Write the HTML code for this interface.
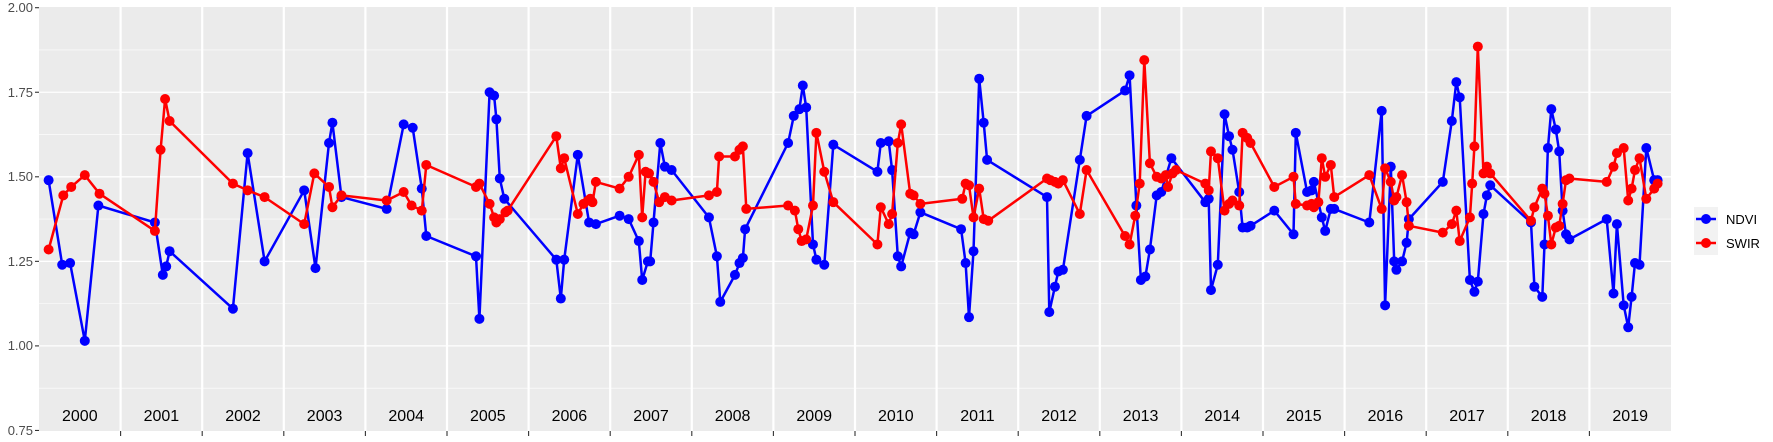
<!DOCTYPE html>
<html><head><meta charset="utf-8"><style>
html,body{margin:0;padding:0;background:#fff;width:1773px;height:442px;overflow:hidden}
svg{display:block;font-family:"Liberation Sans",sans-serif}
</style></head><body>
<svg id="s" width="1773" height="442" xmlns="http://www.w3.org/2000/svg">
<rect x="39" y="7" width="1632" height="424" fill="#ebebeb"/>
<g id="grid"></g>
<g id="lines"></g>
<g font-size="13" fill="#4d4d4d" text-anchor="end">
<text x="33" y="12">2.00</text><text x="33" y="97">1.75</text><text x="33" y="181">1.50</text>
<text x="33" y="266">1.25</text><text x="33" y="350">1.00</text><text x="33" y="435">0.75</text>
</g>
<g id="ticks" stroke="#333" stroke-width="1.1"></g>
<g id="years" font-size="16" fill="#000" text-anchor="middle"></g>
<rect x="1694" y="207" width="24" height="48" fill="#f2f2f2"/>
<line x1="1696" y1="219" x2="1716" y2="219" stroke="#0000ff" stroke-width="2.5"/><circle cx="1706" cy="219" r="5" fill="#0000ff"/>
<line x1="1696" y1="243" x2="1716" y2="243" stroke="#ff0000" stroke-width="2.5"/><circle cx="1706" cy="243" r="5" fill="#ff0000"/>
<text x="1726" y="224" font-size="13">NDVI</text>
<text x="1726" y="248" font-size="13">SWIR</text>
</svg>
<script>
const NS="http://www.w3.org/2000/svg";
function el(p,t,a){const e=document.createElementNS(NS,t);for(const k in a)e.setAttribute(k,a[k]);p.appendChild(e);return e;}
const Y=v=>7.7+(2-v)*338.2, X=x=>x*1.1307;
const g=document.getElementById('grid'),tk=document.getElementById('ticks'),yr=document.getElementById('years');
[0.875,1.125,1.375,1.625,1.875].forEach(v=>el(g,'line',{x1:39,x2:1671,y1:Y(v),y2:Y(v),stroke:'#fff','stroke-width':0.6}));
[1,1.25,1.5,1.75].forEach(v=>el(g,'line',{x1:39,x2:1671,y1:Y(v),y2:Y(v),stroke:'#fff','stroke-width':1.3}));
[0.75,1,1.25,1.5,1.75,2].forEach(v=>el(tk,'line',{x1:35,x2:39,y1:Y(v),y2:Y(v)}));
for(let i=0;i<20;i++){const x=39+i*81.6;
 if(i>0){el(g,'line',{x1:x,x2:x,y1:7,y2:431,stroke:'#fff','stroke-width':2.2});el(tk,'line',{x1:x,x2:x,y1:431,y2:436});}
 const t=el(yr,'text',{x:x+40.8,y:421});t.textContent=2000+i;}
const N=[[43,1.49],[55,1.24],[62,1.245],[75,1.015],[87,1.415],[137,1.365],[144,1.21],[147,1.235],[150,1.28],[206,1.11],[219,1.57],[234,1.25],[269,1.46],[279,1.23],[291,1.6],[294,1.66],[302,1.44],[342,1.405],[357,1.655],[365,1.645],[373,1.465],[377,1.325],[421,1.265],[424,1.08],[433,1.75],[437,1.74],[439,1.67],[442,1.495],[446,1.435],[492,1.255],[496,1.14],[499,1.255],[511,1.565],[521,1.365],[527,1.36],[548,1.385],[556,1.375],[565,1.31],[568,1.195],[573,1.25],[575,1.25],[578,1.365],[584,1.6],[588,1.53],[594,1.52],[627,1.38],[634,1.265],[637,1.13],[650,1.21],[654,1.245],[657,1.26],[659,1.345],[697,1.6],[702,1.68],[707,1.7],[710,1.77],[713,1.705],[719,1.3],[722,1.255],[729,1.24],[737,1.595],[776,1.515],[779,1.6],[786,1.605],[789,1.52],[794,1.265],[797,1.235],[805,1.335],[808,1.33],[814,1.395],[850,1.345],[854,1.245],[857,1.085],[861,1.28],[866,1.79],[870,1.66],[873,1.55],[926,1.44],[928,1.1],[933,1.175],[936,1.22],[940,1.225],[955,1.55],[961,1.68],[995,1.755],[999,1.8],[1005,1.415],[1009,1.195],[1013,1.205],[1017,1.285],[1023,1.445],[1027,1.455],[1036,1.555],[1066,1.425],[1069,1.435],[1071,1.165],[1077,1.24],[1083,1.685],[1087,1.62],[1090,1.58],[1096,1.455],[1099,1.35],[1103,1.35],[1106,1.355],[1127,1.4],[1144,1.33],[1146,1.63],[1156,1.455],[1160,1.46],[1162,1.485],[1169,1.38],[1172,1.34],[1177,1.405],[1180,1.405],[1211,1.365],[1222,1.695],[1225,1.12],[1230,1.53],[1233,1.25],[1235,1.225],[1240,1.25],[1244,1.305],[1246,1.375],[1276,1.485],[1284,1.665],[1288,1.78],[1291,1.735],[1300,1.195],[1304,1.16],[1307,1.19],[1312,1.39],[1315,1.445],[1318,1.475],[1354,1.365],[1357,1.175],[1364,1.145],[1366,1.3],[1369,1.585],[1372,1.7],[1376,1.64],[1379,1.575],[1382,1.4],[1385,1.33],[1388,1.315],[1421,1.375],[1427,1.155],[1430,1.36],[1436,1.12],[1440,1.055],[1443,1.145],[1446,1.245],[1450,1.24],[1456,1.585],[1463,1.49],[1466,1.49]];
const S=[[43,1.285],[56,1.445],[63,1.47],[75,1.505],[88,1.45],[137,1.34],[142,1.58],[146,1.73],[150,1.665],[206,1.48],[219,1.46],[234,1.44],[269,1.36],[278,1.51],[291,1.47],[294,1.41],[302,1.445],[342,1.43],[357,1.455],[364,1.415],[373,1.4],[377,1.535],[421,1.47],[424,1.48],[433,1.42],[437,1.38],[439,1.365],[442,1.375],[447,1.395],[449,1.4],[492,1.62],[496,1.525],[499,1.555],[511,1.39],[516,1.42],[520,1.43],[522,1.435],[524,1.425],[527,1.485],[548,1.465],[556,1.5],[565,1.565],[568,1.38],[571,1.515],[574,1.51],[578,1.485],[583,1.425],[588,1.44],[594,1.43],[627,1.445],[634,1.455],[636,1.56],[650,1.56],[654,1.58],[657,1.59],[660,1.405],[697,1.415],[703,1.4],[706,1.345],[709,1.31],[713,1.315],[719,1.415],[722,1.63],[729,1.515],[737,1.425],[776,1.3],[779,1.41],[786,1.36],[789,1.39],[794,1.6],[797,1.655],[805,1.45],[808,1.445],[814,1.42],[851,1.435],[854,1.48],[857,1.475],[861,1.38],[866,1.465],[870,1.375],[874,1.37],[926,1.495],[929,1.49],[933,1.485],[936,1.48],[940,1.49],[955,1.39],[961,1.52],[995,1.325],[999,1.3],[1004,1.385],[1008,1.48],[1012,1.845],[1017,1.54],[1023,1.5],[1027,1.495],[1031,1.505],[1033,1.47],[1037,1.51],[1040,1.52],[1066,1.48],[1069,1.46],[1071,1.575],[1077,1.555],[1083,1.4],[1087,1.42],[1090,1.43],[1096,1.415],[1099,1.63],[1103,1.615],[1106,1.6],[1127,1.47],[1144,1.5],[1146,1.42],[1156,1.415],[1160,1.42],[1162,1.41],[1166,1.425],[1169,1.555],[1172,1.5],[1177,1.535],[1180,1.44],[1211,1.505],[1222,1.405],[1225,1.525],[1230,1.485],[1233,1.43],[1235,1.44],[1240,1.505],[1244,1.425],[1246,1.355],[1276,1.335],[1284,1.36],[1288,1.4],[1291,1.31],[1300,1.38],[1302,1.48],[1304,1.59],[1307,1.885],[1312,1.51],[1315,1.53],[1318,1.51],[1354,1.37],[1357,1.41],[1364,1.465],[1366,1.45],[1369,1.385],[1372,1.3],[1376,1.35],[1379,1.355],[1382,1.42],[1385,1.49],[1388,1.495],[1421,1.485],[1427,1.53],[1430,1.57],[1436,1.585],[1440,1.43],[1443,1.465],[1446,1.52],[1450,1.555],[1456,1.435],[1463,1.465],[1466,1.48]];
const L=document.getElementById('lines');
function series(d,c){el(L,'polyline',{points:d.map(p=>X(p[0]).toFixed(1)+','+Y(p[1]).toFixed(1)).join(' '),fill:'none',stroke:c,'stroke-width':2.5,'stroke-linejoin':'round'});
 d.forEach(p=>el(L,'circle',{cx:X(p[0]),cy:Y(p[1]),r:5,fill:c}));}
series(N,'#0000ff');series(S,'#ff0000');
</script>
</body></html>
